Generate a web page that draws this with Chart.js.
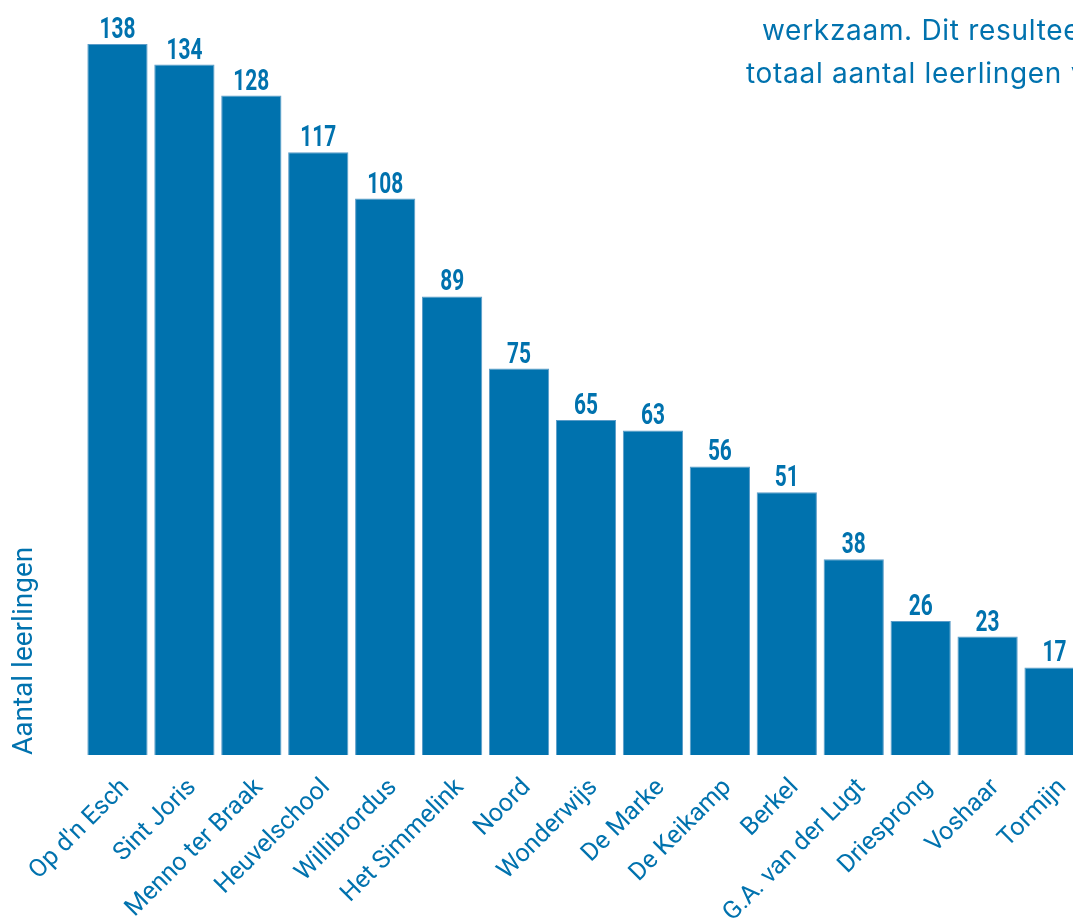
<!DOCTYPE html>
<html>
<head>
    <meta charset='UTF-8'>
    <script src="https://cdn.jsdelivr.net/npm/chart.js"></script>
    <style>
        body { margin: 0; overflow: hidden; background: #fff; }
        #wrap { position: relative; width: 1073px; height: 921px; overflow: hidden; }
        #chartBox { position: absolute; left: 0; top: 0; width: 1090px; height: 921px; }
        .intro { position: absolute; white-space: nowrap; color: #0072ae; letter-spacing: 0.7px;
                 font-family: 'Inter', 'Roboto', sans-serif; font-size: 28px; }
    </style>
</head>
<title>Aantal leerlingen</title>

<body>
<div id="wrap">
    <div id="chartBox"><canvas id="myChart" width="1090" height="921"></canvas></div>
    <div class="intro" style="left:762px; top:13px;">werkzaam. Dit resulteert in een</div>
    <div class="intro" style="left:746px; top:56px;">totaal aantal leerlingen van</div>
</div>
<script>
    const scholen = [
        'Op d\'n Esch', 'Sint Joris', 'Menno ter Braak', 'Heuvelschool', 'Willibrordus',
        'Het Simmelink', 'Noord', 'Wonderwijs', 'De Marke', 'De Keikamp',
        'Berkel', 'G.A. van der Lugt', 'Driesprong', 'Voshaar', 'Tormijn'
    ];
    const leerlingen = [138, 134, 128, 117, 108, 89, 75, 65, 63, 56, 51, 38, 26, 23, 17];

    const blauw = '#0072ae';

    // waarde boven elke staaf, smal gezet
    const valueLabels = {
        id: 'valueLabels',
        afterDatasetsDraw(chart) {
            const ctx = chart.ctx;
            const meta = chart.getDatasetMeta(0);
            const sx = 0.72;
            ctx.save();
            ctx.fillStyle = blauw;
            ctx.font = 'bold 29px Roboto, sans-serif';
            ctx.textAlign = 'center';
            ctx.textBaseline = 'alphabetic';
            ctx.scale(sx, 1);
            meta.data.forEach((bar, i) => {
                ctx.fillText(leerlingen[i], bar.x / sx, bar.y - 6);
            });
            ctx.restore();
        }
    };

    const myChart = new Chart(document.getElementById('myChart'), {
        type: 'bar',
        data: {
            labels: scholen,
            datasets: [{
                data: leerlingen,
                backgroundColor: blauw,
                borderColor: '#5b9cc8',
                borderWidth: 1,
                barPercentage: 0.9,
                categoryPercentage: 1
            }]
        },
        options: {
            responsive: false,
            animation: false,
            layout: { padding: { top: 44, right: 2, left: 0, bottom: 0 } },
            plugins: { legend: { display: false }, tooltip: { enabled: false } },
            scales: {
                x: {
                    grid: { display: false },
                    border: { display: false },
                    ticks: {
                        color: blauw,
                        autoSkip: false,
                        minRotation: 45,
                        maxRotation: 45,
                        padding: 10,
                        labelOffset: 8,
                        font: { family: 'Roboto', size: 25 }
                    },
                    afterFit(scale) { scale.height = 166; }
                },
                y: {
                    min: 0,
                    max: 138,
                    grid: { display: false },
                    border: { display: false },
                    ticks: { display: false },
                    title: {
                        display: true,
                        text: 'Aantal leerlingen',
                        align: 'start',
                        color: blauw,
                        padding: { top: 8, bottom: 0 },
                        font: { family: 'Roboto', size: 28 }
                    },
                    afterFit(scale) { scale.width = 84; }
                }
            }
        },
        plugins: [valueLabels]
    });
</script>
</body>
</html>
